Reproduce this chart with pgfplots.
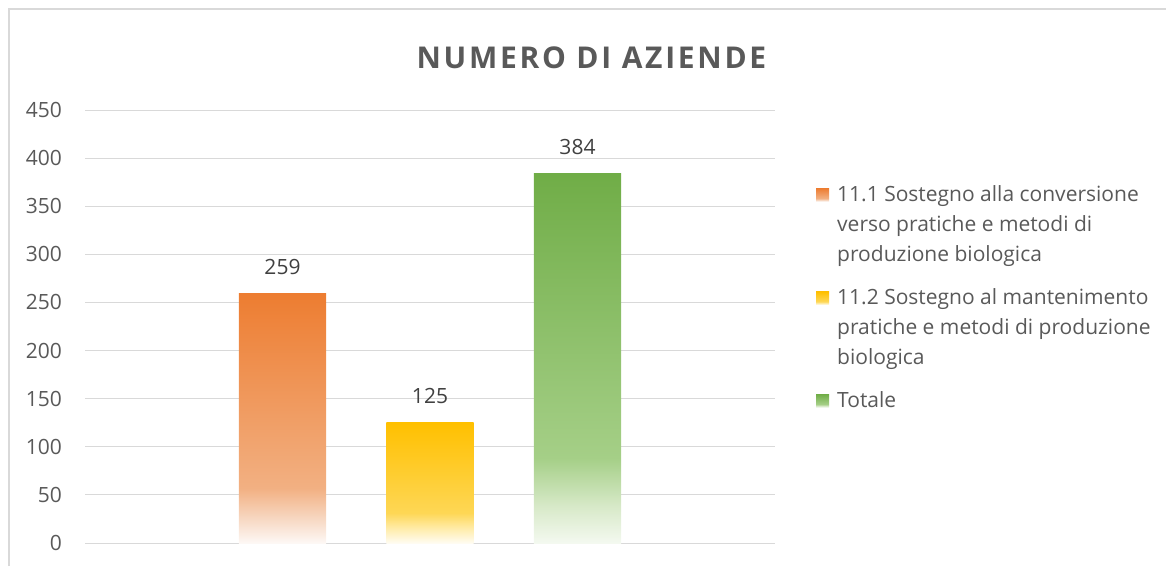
\documentclass[border=0pt]{standalone}
\usepackage{fontspec}
\setmainfont{Open Sans}
\usepackage{pgfplots}
\pgfplotsset{compat=1.18}
\definecolor{txt}{RGB}{89,89,89}
\definecolor{lbl}{RGB}{64,64,64}
\definecolor{gridc}{RGB}{217,217,217}
\definecolor{oT}{RGB}{237,125,49}
\definecolor{oM}{RGB}{242,176,130}
\definecolor{oL}{RGB}{247,215,193}
\definecolor{oB}{RGB}{253,248,245}
\definecolor{yT}{RGB}{255,192,0}
\definecolor{yM}{RGB}{254,215,85}
\definecolor{yL}{RGB}{255,236,170}
\definecolor{yB}{RGB}{255,252,242}
\definecolor{gT}{RGB}{112,173,71}
\definecolor{gM}{RGB}{165,207,135}
\definecolor{gL}{RGB}{215,233,200}
\definecolor{gB}{RGB}{244,249,240}
\pgfdeclareverticalshading{gradO}{100bp}{color(0bp)=(oB); color(25bp)=(oB); color(30bp)=(oL); color(36bp)=(oM); color(75bp)=(oT); color(100bp)=(oT)}
\pgfdeclareverticalshading{gradY}{100bp}{color(0bp)=(yB); color(25bp)=(yB); color(31bp)=(yL); color(37.5bp)=(yM); color(75bp)=(yT); color(100bp)=(yT)}
\pgfdeclareverticalshading{gradG}{100bp}{color(0bp)=(gB); color(25bp)=(gB); color(30bp)=(gL); color(36.5bp)=(gM); color(75bp)=(gT); color(100bp)=(gT)}
\pgfplotsset{
  legimg/.style={legend image code/.code={\path[##1, draw=none] (0pt,-6.5pt) rectangle (13pt,6.5pt);}},
  legimgup/.style={legend image code/.code={\path[##1, draw=none] (0pt,22.5pt) rectangle (13pt,35.5pt);}},
}
\begin{document}
\begin{tikzpicture}
\useasboundingbox (0,0) rectangle (1166pt,566pt);
\draw[gridc, line width=1.5pt] (9pt,0) -- (9pt,557pt) -- (1166pt,557pt);
\begin{axis}[
  at={(85pt,23pt)}, anchor=south west,
  scale only axis, width=690pt, height=433pt,
  xmin=-0.339, xmax=4.339, ymin=0, ymax=450,
  xtick=\empty, ytick={0,50,...,450},
  ymajorgrids, grid style={gridc, line width=1pt},
  axis line style={draw=none},
  major tick length=0pt,
  /pgf/number format/assume math mode=true,
  yticklabel style={font=\fontsize{21}{25}\selectfont, color=txt, anchor=east, inner sep=0pt, xshift=-23pt},
  title={NUMERO DI AZIENDE},
  title style={at={(0.734,1.106)}, anchor=center, color=txt, font={\fontsize{30}{36}\selectfont\bfseries\addfontfeatures{LetterSpace=9}}},
  every node near coord/.append style={color=lbl, font=\fontsize{21}{25}\selectfont, inner sep=0pt, anchor=south, yshift=19pt},
  legimg,
  legend style={at={(1.0594,0.827)}, anchor=north west, draw=none, fill=none, inner sep=0pt, row sep=26pt, column sep=8pt,
    font=\fontsize{21}{30}\selectfont, text=txt, nodes={inner sep=0pt, align=left}},
  legend cell align=left,
]
\addplot[ybar, bar width=0.59, bar shift=0pt, draw=none, shade, shading=gradO, nodes near coords, legimgup] coordinates {(1,259)};
\addlegendentry{11.1 Sostegno alla conversione\\verso pratiche e metodi di\\produzione biologica}
\addplot[ybar, bar width=0.59, bar shift=0pt, draw=none, shade, shading=gradY, nodes near coords, legimgup] coordinates {(2,125)};
\addlegendentry{11.2 Sostegno al mantenimento\\pratiche e metodi di produzione\\biologica}
\addplot[ybar, bar width=0.59, bar shift=0pt, draw=none, shade, shading=gradG, nodes near coords, legimg] coordinates {(3,384)};
\addlegendentry{Totale}
\end{axis}
\end{tikzpicture}
\end{document}
